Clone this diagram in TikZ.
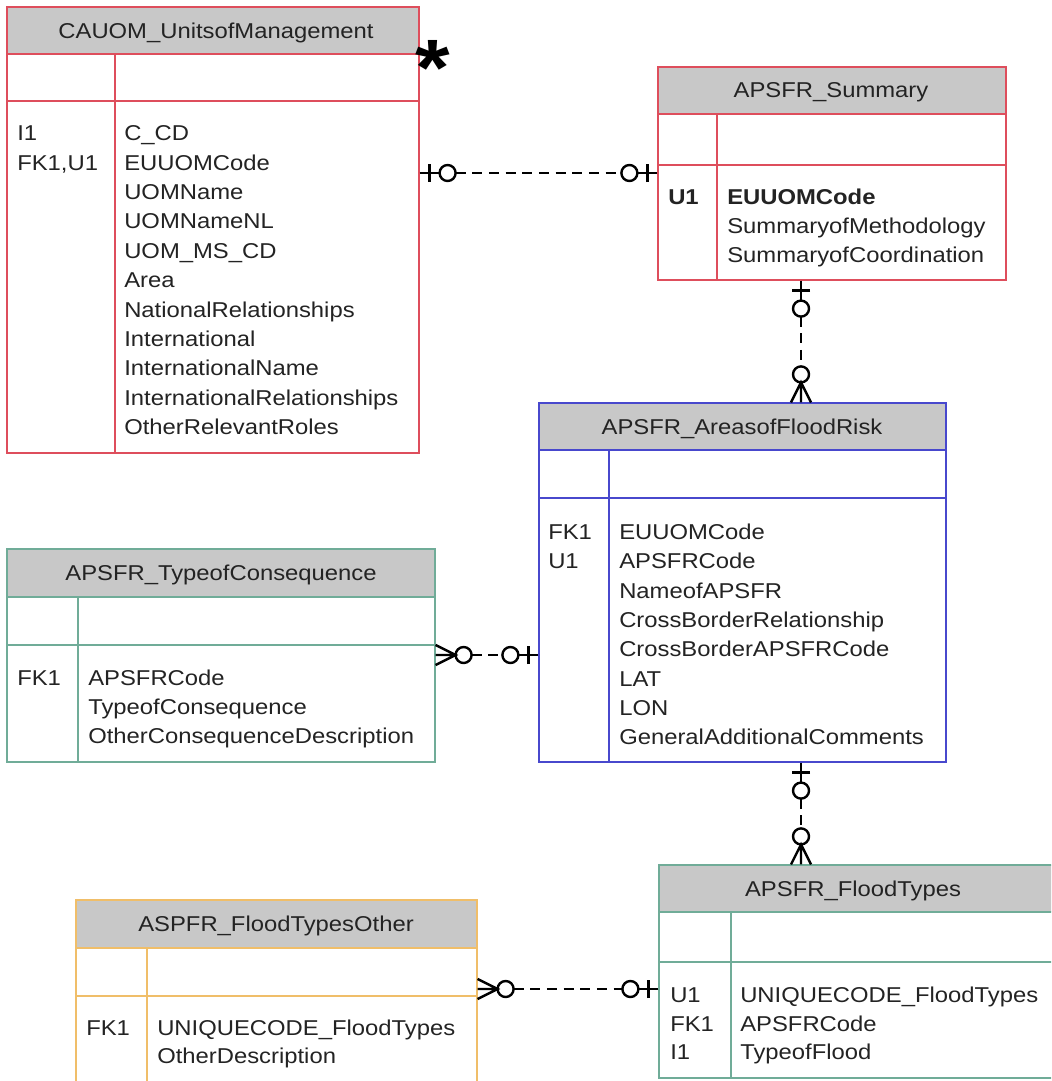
\documentclass[tikz,border=0pt]{standalone}
\usepackage{fontspec}
\setmainfont[FakeStretch=1.11]{Liberation Sans}
\usetikzlibrary{fit}
\definecolor{cred}{RGB}{222,78,92}
\definecolor{cblue}{RGB}{72,72,205}
\definecolor{cteal}{RGB}{112,172,152}
\definecolor{corange}{RGB}{240,190,105}
\definecolor{hdrc}{RGB}{200,200,200}
\definecolor{txtc}{RGB}{35,35,35}
\newcommand\entity[9]{%
  \fill[hdrc] (#2,#3) rectangle (#4,#6);
  \draw[sepl=#9] (#2,#6) -- (#4,#6) (#2,#7) -- (#4,#7) (#8,#6) -- (#8,#5);
  \node[ent=#9, fit={(#2,#3) (#4,#5)}] (#1) {};
}
\newcommand\flist[5]{\foreach \t [count=\i] in {#5} \node[fld] (#1\i) at (#2,{#3+#4*(\i-1)+7.6}) {\t};}
\newcommand\zo[2]{\begin{scope}[shift={(#1)},rotate=#2]
  \draw[conn] (0,0) -- (20,0) (10,-9) -- (10,9);
  \draw[conn] (28,0) circle[radius=6pt];
\end{scope}}
\newcommand\zm[2]{\begin{scope}[shift={(#1)},rotate=#2]
  \draw[conn] (0,-10) -- (20,0) -- (0,10) (0,0) -- (20,0);
  \draw[conn] (28,0) circle[radius=6pt];
\end{scope}}
\begin{document}
\begin{tikzpicture}[x=0.75pt,y=-0.75pt,
  txt/.style={font=\fontsize{16.1}{19}\selectfont, text=txtc, inner sep=0pt},
  fld/.style={txt, anchor=base west},
  ttl/.style={txt, anchor=base},
  ent/.style={draw=#1, line width=0.9pt, inner sep=0pt},
  sepl/.style={draw=#1, line width=0.9pt},
  conn/.style={line width=1.8pt, black},
  dsh/.style={line width=1.8pt, black, dash pattern=on 7.5pt off 5pt, shorten >=27pt, shorten <=27pt}
]
\fill[white] (0,0) rectangle (1051,1081);
\useasboundingbox (0,0) rectangle (1051,1081);
\clip (0,0) rectangle (1051,1081);

% entities
\entity{cauom}{7}{7}{419}{453}{54}{101}{115}{cred}
\entity{summ}{658}{67}{1006}{280}{114}{165}{717}{cred}
\entity{areas}{539}{403}{946}{762}{450}{498}{609}{cblue}
\entity{typ}{7}{549}{435}{762}{597}{645}{78}{cteal}
\entity{ftypes}{659}{865}{1060}{1078}{912}{962}{731}{cteal}
\entity{fother}{76}{900}{477}{1095}{948}{996}{147}{corange}

% titles
\node[ttl] (cauomt) at (216,38.6) {CAUOM\_UnitsofManagement};
\node[ttl] (summt) at (831,97.6) {APSFR\_Summary};
\node[ttl] (areast) at (742,434.6) {APSFR\_AreasofFloodRisk};
\node[ttl] (typt) at (221,580.6) {APSFR\_TypeofConsequence};
\node[ttl] (ftypest) at (853,896.6) {APSFR\_FloodTypes};
\node[ttl] (fothert) at (276,931.6) {ASPFR\_FloodTypesOther};

% fields
\flist{cauomk}{17}{133}{29.4}{I1,{FK1,U1}}
\flist{cauomf}{124}{133}{29.4}{C\_CD,EUUOMCode,UOMName,UOMNameNL,UOM\_MS\_CD,Area,NationalRelationships,International,InternationalName,InternationalRelationships,OtherRelevantRoles}
\flist{summk}{668}{197}{29}{\textbf{U1}}
\flist{summf}{727}{197}{29}{\textbf{EUUOMCode},SummaryofMethodology,SummaryofCoordination}
\flist{areask}{548}{532}{29.3}{FK1,U1}
\flist{areasf}{619}{532}{29.3}{EUUOMCode,APSFRCode,NameofAPSFR,CrossBorderRelationship,CrossBorderAPSFRCode,LAT,LON,GeneralAdditionalComments}
\flist{typk}{17}{678}{29}{FK1}
\flist{typf}{88}{678}{29}{APSFRCode,TypeofConsequence,OtherConsequenceDescription}
\flist{ftypesk}{670}{995}{28.5}{U1,FK1,I1}
\flist{ftypesf}{740}{995}{28.5}{UNIQUECODE\_FloodTypes,APSFRCode,TypeofFlood}
\flist{fotherk}{86}{1028}{28}{FK1}
\flist{fotherf}{157}{1028}{28}{UNIQUECODE\_FloodTypes,OtherDescription}

% asterisk
\node[inner sep=0pt, font=\fontsize{60}{60}\selectfont\bfseries] (star) at (433,68) {*};

% connector helpers
\coordinate (h1) at (0,173);
\coordinate (h2) at (801,0);
\coordinate (h3) at (0,655);
\coordinate (h5) at (0,989);

\coordinate (c1a) at (cauom.east |- h1);
\coordinate (c1b) at (summ.west |- h1);
\coordinate (c2a) at (summ.south -| h2);
\coordinate (c2b) at (areas.north -| h2);
\coordinate (c3a) at (typ.east |- h3);
\coordinate (c3b) at (areas.west |- h3);
\coordinate (c4a) at (areas.south -| h2);
\coordinate (c4b) at (ftypes.north -| h2);
\coordinate (c5a) at (fother.east |- h5);
\coordinate (c5b) at (ftypes.west |- h5);

% connectors
\zo{c1a}{0} \zo{c1b}{180} \draw[dsh] (c1a) -- (c1b);
\zo{c2a}{-90} \zm{c2b}{90} \draw[dsh] (c2a) -- (c2b);
\zm{c3a}{0} \zo{c3b}{180} \draw[dsh] (c3a) -- (c3b);
\zo{c4a}{-90} \zm{c4b}{90} \draw[dsh] (c4a) -- (c4b);
\zm{c5a}{0} \zo{c5b}{180} \draw[dsh] (c5a) -- (c5b);
\end{tikzpicture}
\end{document}
